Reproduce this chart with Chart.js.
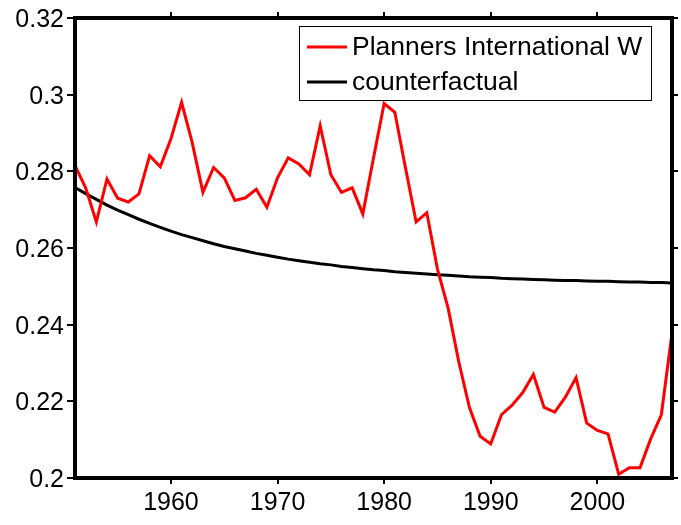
<!DOCTYPE html>
<html>
<head>
<meta charset="utf-8">
<script src="https://cdn.jsdelivr.net/npm/chart.js@4"></script>
<style>
  html, body { margin: 0; padding: 0; background: #fff; }
  canvas { display: block; }
</style>
</head>
<body>
<canvas id="chart" width="681" height="525"></canvas>
<script>
const years = [1951, 1952, 1953, 1954, 1955, 1956, 1957, 1958, 1959, 1960,
  1961, 1962, 1963, 1964, 1965, 1966, 1967, 1968, 1969, 1970,
  1971, 1972, 1973, 1974, 1975, 1976, 1977, 1978, 1979, 1980,
  1981, 1982, 1983, 1984, 1985, 1986, 1987, 1988, 1989, 1990,
  1991, 1992, 1993, 1994, 1995, 1996, 1997, 1998, 1999, 2000,
  2001, 2002, 2003, 2004, 2005, 2006, 2007];

const planners = [0.2815, 0.2757, 0.2668, 0.2780, 0.2730, 0.2720, 0.2741, 0.2841, 0.2812, 0.2885,
  0.2980, 0.2874, 0.2745, 0.2810, 0.2783, 0.2724, 0.2731, 0.2753, 0.2706, 0.2783,
  0.2835, 0.2819, 0.2791, 0.2919, 0.2791, 0.2745, 0.2757, 0.2689, 0.2835, 0.2977,
  0.2954, 0.2809, 0.2668, 0.2692, 0.2545, 0.2443, 0.2303, 0.2184, 0.2109, 0.2089,
  0.2165, 0.2190, 0.2223, 0.2270, 0.2184, 0.2172, 0.2211, 0.2262, 0.2143, 0.2124,
  0.2115, 0.2010, 0.2027, 0.2027, 0.2102, 0.2165, 0.2378];

const counterfactual = [0.2758, 0.2742, 0.2727, 0.2712, 0.2699, 0.2687, 0.2675, 0.2664, 0.2654, 0.2644,
  0.2635, 0.2627, 0.2619, 0.2611, 0.2604, 0.2598, 0.2592, 0.2586, 0.2581, 0.2576,
  0.2571, 0.2567, 0.2563, 0.2559, 0.2556, 0.2552, 0.2549, 0.2546, 0.2543, 0.2541,
  0.2538, 0.2536, 0.2534, 0.2532, 0.2530, 0.2529, 0.2527, 0.2525, 0.2524, 0.2523,
  0.2521, 0.2520, 0.2519, 0.2518, 0.2517, 0.2516, 0.2515, 0.2515, 0.2514, 0.2513,
  0.2513, 0.2512, 0.2511, 0.2511, 0.2510, 0.2510, 0.2509];

const xTicks = [1960, 1970, 1980, 1990, 2000];
const yTicks = [0.2, 0.22, 0.24, 0.26, 0.28, 0.3, 0.32];
const seriesNames = ['Planners International W', 'counterfactual'];

const FONT = '"Liberation Sans", Arial, Helvetica, sans-serif';

const toPoints = (vals) => vals.map((v, i) => ({ x: years[i], y: v }));

// frame, top/right tick marks and the boxed legend
const framePlugin = {
  id: 'frame',
  afterDraw(chart) {
    const ctx = chart.ctx;
    const a = chart.chartArea;
    const xs = chart.scales.x, ys = chart.scales.y;
    ctx.save();
    ctx.strokeStyle = '#000';
    ctx.lineWidth = 2;
    ctx.beginPath();
    xTicks.forEach(t => {
      const px = Math.round(xs.getPixelForValue(t));
      ctx.moveTo(px, a.top);
      ctx.lineTo(px, a.top - 6);
    });
    yTicks.forEach(t => {
      const py = Math.round(ys.getPixelForValue(t));
      ctx.moveTo(a.right, py);
      ctx.lineTo(a.right + 6, py);
    });
    ctx.stroke();

    ctx.lineWidth = 4;
    ctx.strokeRect(a.left, a.top, a.right - a.left, a.bottom - a.top);

    // legend box
    const lx = 299.5, ly = 26.5, lw = 352, lh = 74;
    ctx.fillStyle = '#fff';
    ctx.fillRect(lx, ly, lw, lh);
    ctx.lineWidth = 1;
    ctx.strokeStyle = '#000';
    ctx.strokeRect(lx, ly, lw, lh);
    ctx.font = '26.5px ' + FONT;
    ctx.textBaseline = 'middle';
    ctx.textAlign = 'left';
    chart.data.datasets.forEach((ds, i) => {
      const y = 47 + i * 35;
      ctx.strokeStyle = ds.borderColor;
      ctx.lineWidth = 3;
      ctx.beginPath();
      ctx.moveTo(307, y);
      ctx.lineTo(347, y);
      ctx.stroke();
      ctx.fillStyle = '#000';
      ctx.fillText(ds.label, 352, y + 1);
    });
    ctx.restore();
  }
};

const chart = new Chart(document.getElementById('chart'), {
  type: 'line',
  data: {
    datasets: [
      {
        label: seriesNames[0],
        data: toPoints(planners),
        borderColor: '#ff0000',
        borderWidth: 3,
        pointRadius: 0,
        tension: 0
      },
      {
        label: seriesNames[1],
        data: toPoints(counterfactual),
        borderColor: '#000000',
        borderWidth: 3,
        pointRadius: 0,
        tension: 0
      }
    ]
  },
  options: {
    responsive: false,
    animation: false,
    layout: { padding: { left: 0, top: 16, right: 9, bottom: 0 } },
    plugins: {
      legend: { display: false },
      tooltip: { enabled: false }
    },
    scales: {
      x: {
        type: 'linear',
        min: 1951,
        max: 2007,
        afterBuildTicks: (s) => { s.ticks = xTicks.map(v => ({ value: v })); },
        afterFit: (s) => { s.height = 47; },
        border: { display: false },
        grid: { drawOnChartArea: false, drawTicks: true, tickLength: 6, color: '#000', lineWidth: 2 },
        ticks: {
          color: '#000',
          font: { family: FONT, size: 25 },
          padding: 4,
          maxRotation: 0,
          callback: (v) => String(v)
        }
      },
      y: {
        min: 0.2,
        max: 0.32,
        afterBuildTicks: (s) => { s.ticks = yTicks.map(v => ({ value: v })); },
        afterFit: (s) => { s.width = 75; },
        border: { display: false },
        grid: { drawOnChartArea: false, drawTicks: true, tickLength: 8, color: '#000', lineWidth: 2 },
        ticks: {
          color: '#000',
          font: { family: FONT, size: 25 },
          padding: 3,
          labelOffset: 2,
          callback: (v) => String(Number(v.toFixed(2)))
        }
      }
    }
  },
  plugins: [framePlugin]
});
</script>
</body>
</html>
